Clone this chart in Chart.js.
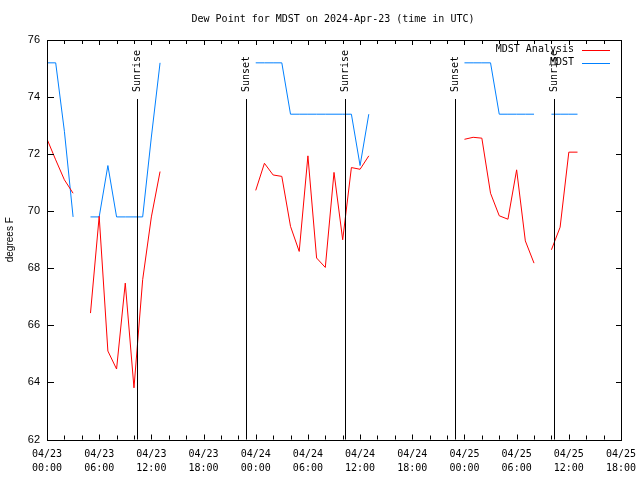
<!DOCTYPE html>
<html>
<head>
<meta charset="utf-8">
<script src="https://cdn.jsdelivr.net/npm/chart.js@4/dist/chart.umd.min.js"></script>
<style>
  body { margin: 0; background: #fff; }
  #wrap { width: 640px; height: 480px; }
</style>
</head>
<body>
<div id="wrap"><canvas id="myChart" width="640" height="480"></canvas></div>
<script>
// hours since 2024-04-23 00:00 UTC
const hours = [0, 1, 2, 3, 4, 5, 6, 7, 8, 9, 10, 11, 12, 13, 14,
  23, 24, 25, 26, 27, 28, 29, 30, 31, 32, 33, 34, 35, 36, 37, 38,
  47, 48, 49, 50, 51, 52, 53, 54, 55, 56, 57, 58, 59, 60, 61];
const analysis = [72.53, 71.8, 71.1, 70.63, null, 66.43, 69.82, 65.1, 64.47, 67.48, 63.81, 67.6, 69.8, 71.39, null,
  null, 70.73, 71.68, 71.27, 71.22, 69.47, 68.59, 71.94, 68.36, 68.03, 71.36, 69.0, 71.53, 71.47, 71.94, null,
  null, 72.52, 72.59, 72.56, 70.63, 69.84, 69.72, 71.45, 68.96, 68.18, null, 68.65, 69.44, 72.07, 72.07];
const mdst = [75.2, 75.2, 72.8, 69.8, null, 69.8, 69.8, 71.6, 69.8, 69.8, 69.8, 69.8, 72.6, 75.2, null,
  null, 75.2, 75.2, 75.2, 75.2, 73.4, 73.4, 73.4, 73.4, 73.4, 73.4, 73.4, 73.4, 71.6, 73.4, null,
  null, 75.2, 75.2, 75.2, 75.2, 73.4, 73.4, 73.4, 73.4, 73.4, null, 73.4, 73.4, 73.4, 73.4];

const xTickLabels = [["04/23", "00:00"], ["04/23", "06:00"], ["04/23", "12:00"], ["04/23", "18:00"],
  ["04/24", "00:00"], ["04/24", "06:00"], ["04/24", "12:00"], ["04/24", "18:00"],
  ["04/25", "00:00"], ["04/25", "06:00"], ["04/25", "12:00"], ["04/25", "18:00"]];

const sunHours = [10.3, 22.9, 34.28, 46.9, 58.25];
const sunLabels = ["Sunrise", "Sunset", "Sunrise", "Sunset", "Sunrise"];

const seriesNames = ["MDST Analysis", "MDST"];
const seriesColors = ["#ff0000", "#0080ff"];

const mono = "'DejaVu Sans Mono', monospace";

const px = (v) => Math.round(v) + 0.5;

// gnuplot-ish frame, inward ticks, sun lines, legend and title
const gnuplotBits = {
  id: "gnuplotBits",
  afterDatasetsDraw(chart) {
    const ctx = chart.ctx;
    const a = chart.chartArea;
    const xs = chart.scales.x;
    const ys = chart.scales.y;
    ctx.save();
    ctx.strokeStyle = "#000";
    ctx.lineWidth = 1;

    // sunrise / sunset markers
    sunHours.forEach((h, i) => {
      const x = px(xs.getPixelForValue(h));
      ctx.beginPath();
      ctx.moveTo(x, 99);
      ctx.lineTo(x, a.bottom);
      ctx.stroke();
      ctx.save();
      ctx.translate(x, 92);
      ctx.rotate(-Math.PI / 2);
      ctx.fillStyle = "#000";
      ctx.font = "10px " + mono;
      ctx.textAlign = "left";
      ctx.textBaseline = "middle";
      ctx.fillText(sunLabels[i], 0, 0);
      ctx.restore();
    });

    // frame
    ctx.strokeRect(px(a.left), px(a.top), Math.round(a.right - a.left), Math.round(a.bottom - a.top));

    // x ticks, every 2 hours, mirrored on top
    ctx.beginPath();
    for (let h = 2; h < 66; h += 2) {
      const x = px(xs.getPixelForValue(h));
      const len = h % 6 === 0 ? 5 : 4;
      ctx.moveTo(x, a.bottom);
      ctx.lineTo(x, a.bottom - len);
      ctx.moveTo(x, a.top);
      ctx.lineTo(x, a.top + len);
    }
    // y ticks, mirrored on right
    for (let v = 64; v < 76; v += 2) {
      const y = px(ys.getPixelForValue(v));
      ctx.moveTo(a.left, y);
      ctx.lineTo(a.left + 7, y);
      ctx.moveTo(a.right, y);
      ctx.lineTo(a.right - 5, y);
    }
    ctx.stroke();

    // legend
    ctx.font = "10px " + mono;
    ctx.textAlign = "right";
    ctx.textBaseline = "middle";
    seriesNames.forEach((name, i) => {
      const y = 49.5 + i * 13;
      ctx.fillStyle = "#000";
      ctx.fillText(name, 574, y);
      ctx.strokeStyle = seriesColors[i];
      ctx.beginPath();
      ctx.moveTo(582, px(y));
      ctx.lineTo(610, px(y));
      ctx.stroke();
    });

    // title
    ctx.fillStyle = "#000";
    ctx.textAlign = "center";
    ctx.fillText("Dew Point for MDST on 2024-Apr-23 (time in UTC)", 333, 19);
    ctx.restore();
  }
};

new Chart(document.querySelector("#myChart"), {
  type: "line",
  data: {
    datasets: [
      {
        label: seriesNames[0],
        data: hours.map((h, i) => ({ x: h, y: analysis[i] })),
        borderColor: seriesColors[0],
        borderWidth: 1,
        pointRadius: 0,
        tension: 0,
        spanGaps: false
      },
      {
        label: seriesNames[1],
        data: hours.map((h, i) => ({ x: h, y: mdst[i] })),
        borderColor: seriesColors[1],
        borderWidth: 1,
        pointRadius: 0,
        tension: 0,
        spanGaps: false
      }
    ]
  },
  options: {
    responsive: false,
    animation: false,
    layout: { padding: { left: 0, right: 19, top: 40, bottom: 0 } },
    plugins: {
      legend: { display: false },
      title: { display: false },
      tooltip: { enabled: false }
    },
    scales: {
      x: {
        type: "linear",
        min: 0,
        max: 66,
        afterFit: (s) => { s.height = 40.5; s.paddingLeft = 0; s.paddingRight = 0; },
        grid: { display: false, drawTicks: false },
        border: { display: false },
        ticks: {
          stepSize: 6,
          autoSkip: false,
          maxRotation: 0,
          padding: 8,
          color: "#000",
          font: { family: mono, size: 10, lineHeight: 1.4 },
          callback: (v) => (v % 6 === 0 ? xTickLabels[v / 6] : "")
        }
      },
      y: {
        min: 62,
        max: 76,
        afterFit: (s) => { s.width = 47; s.paddingTop = 0; s.paddingBottom = 0; },
        grid: { display: false, drawTicks: false },
        border: { display: false },
        ticks: {
          stepSize: 2,
          padding: 7,
          color: "#000",
          font: { family: "'Liberation Sans', Arial, sans-serif", size: 11 }
        },
        title: {
          display: true,
          text: "degrees F",
          color: "#000",
          font: { family: "'Liberation Sans', Arial, sans-serif", size: 10 }
        }
      }
    }
  },
  plugins: [gnuplotBits]
});
</script>
</body>
</html>
